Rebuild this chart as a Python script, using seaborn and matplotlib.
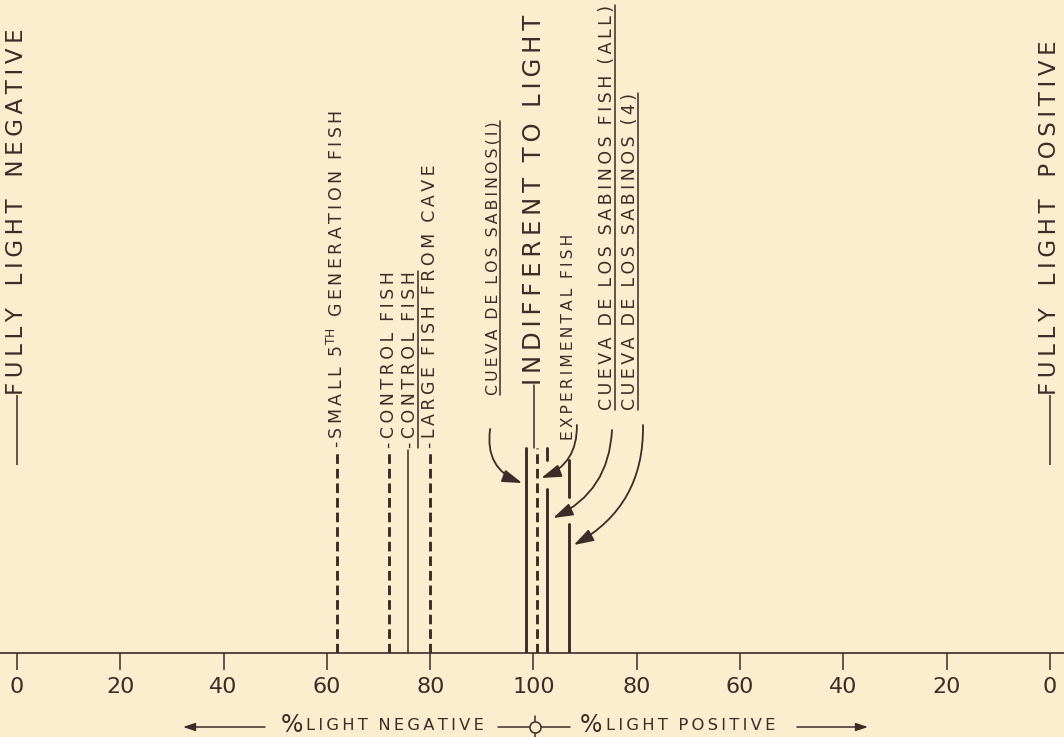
import matplotlib
matplotlib.use("Agg")
import matplotlib.pyplot as plt
from matplotlib.lines import Line2D
import numpy as np
import pandas as pd
import seaborn as sns

# ---------------- data ----------------
tick_positions = [0, 20, 40, 60, 80, 100, 120, 140, 160, 180, 200]
tick_labels = ["0", "20", "40", "60", "80", "100", "80", "60", "40", "20", "0"]

# vertical result lines (position on a 0..200 scale: 100 = indifferent to light)
segment_ids = ["small_5th", "control_a", "control_b", "large_cave", "cueva_1",
               "indiff_leader", "indifferent", "exp_top", "cueva_all",
               "c4_top", "cueva_4"]
segment_x = [62.0, 72.0, 75.7, 80.0, 98.5, 100.1, 100.7, 102.6, 102.6, 106.9, 106.9]
segment_y0 = [0, 0, 0, 0, 0, 205, 0, 193, 0, 156, 0]
segment_y1 = [203, 203, 203, 203, 205, 268, 205, 205, 164, 193, 129]
segment_dash = ["dashed", "dashed", "solid", "dashed", "solid", "solid",
                "dashed", "solid", "solid", "solid", "solid"]
segment_weight = ["thick", "thick", "thin", "thick", "thick", "thin",
                  "thick", "thick", "thick", "thick", "thick"]

label_texts = ["-SMALL  5$^{TH}$  GENERATION  FISH", "-CONTROL  FISH", "-CONTROL  FISH",
               "-LARGE  FISH  FROM  CAVE", "CUEVA  DE  LOS  SABINOS(I)",
               "INDIFFERENT  TO  LIGHT", "EXPERIMENTAL  FISH",
               "CUEVA  DE  LOS  SABINOS  FISH  (ALL)", "CUEVA  DE  LOS  SABINOS  (4)"]
label_x = [62.0, 72.0, 76.0, 80.0, 92.2, 100.1, 106.7, 114.2, 118.7]
label_y = [205, 205, 205, 205, 258, 268, 213, 243, 243]
label_size = [12.5, 12.5, 12.5, 12.5, 11.3, 17.5, 11.2, 12.5, 12.5]
label_underline = [False, False, True, False, True, False, False, True, True]

arrow_from = [(91.6, 224), (108.4, 228), (115.2, 223), (121.2, 228)]
arrow_to = [(97.8, 170), (101.5, 175), (103.8, 135), (107.8, 108)]
arrow_rad = [0.4, -0.35, -0.3, -0.3]

side_texts = ["FULLY   LIGHT   NEGATIVE", "FULLY   LIGHT   POSITIVE"]
side_x = [0, 200]
side_leader = (188, 258)

BG = "#fbeecf"
INK = "#3b2c27"

sns.set_theme(style="white", rc={"figure.facecolor": BG, "axes.facecolor": BG,
                                 "savefig.facecolor": BG})
plt.rcParams["font.family"] = ["DejaVu Sans"]
plt.rcParams["mathtext.default"] = "regular"
plt.rcParams["text.color"] = INK


def spaced(s, n=1):
    if n == 0:
        return s
    sep = "\u2009" * n
    out, in_math, prev = [], False, False
    for ch in s:
        if ch == "$":
            in_math = not in_math
            out.append(ch)
            prev = not in_math
            continue
        if in_math:
            out.append(ch)
            continue
        if ch != " " and prev:
            out.append(sep)
        out.append(ch)
        prev = ch != " "
    return "".join(out)


W, H = 1064, 737
fig = plt.figure(figsize=(W / 100, H / 100), dpi=100)
ax = fig.add_axes([0, 84 / H, 1, 653 / H])
ax.set_xlim(-17 / 5.165, (W - 17) / 5.165)
ax.set_ylim(0, 653)

df = pd.DataFrame({
    "seg": np.repeat(segment_ids, 2),
    "x": np.repeat(segment_x, 2),
    "y": [v for pair in zip(segment_y0, segment_y1) for v in pair],
    "dash": np.repeat(segment_dash, 2),
    "weight": np.repeat(segment_weight, 2),
})
sns.lineplot(data=df, x="x", y="y", units="seg", estimator=None, sort=False,
             style="dash", dashes={"dashed": (3.3, 1.7), "solid": ""},
             size="weight", sizes={"thick": 2.1, "thin": 1.1},
             color=INK, legend=False, ax=ax)

for s in ["top", "left", "right"]:
    ax.spines[s].set_visible(False)
ax.spines["bottom"].set_color(INK)
ax.spines["bottom"].set_linewidth(1.2)
ax.set_xticks(tick_positions, tick_labels)
ax.set_yticks([])
ax.tick_params(axis="x", bottom=True, direction="out", length=12, width=1.1,
               color=INK, labelcolor=INK, labelsize=16, pad=5)
ax.set_xlabel("")
ax.set_ylabel("")

texts = []
for t, x, y, fs in zip(label_texts, label_x, label_y, label_size):
    texts.append(ax.text(x, y, spaced(t), rotation=90, ha="center", va="bottom",
                         fontsize=fs, color=INK))

for t, x in zip(side_texts, side_x):
    ax.text(x, side_leader[1], spaced(t), rotation=90, ha="center", va="bottom",
            fontsize=16.5, color=INK)
    ax.vlines(x, side_leader[0], side_leader[1], color=INK, lw=1.1)

for a, b, r in zip(arrow_from, arrow_to, arrow_rad):
    ax.annotate("", xy=b, xytext=a,
                arrowprops=dict(arrowstyle="-|>,head_length=1.0,head_width=0.32",
                                connectionstyle=f"arc3,rad={r}", color=INK, lw=1.3,
                                shrinkA=0, shrinkB=0))

fig.canvas.draw()
renderer = fig.canvas.get_renderer()
inv = ax.transData.inverted()
for t, u in zip(texts, label_underline):
    if u:
        bb = t.get_window_extent(renderer).transformed(inv)
        ax.plot([bb.x1 - 0.2, bb.x1 - 0.2], [bb.y0, bb.y1], color=INK, lw=1.1)


def fx(x):
    return x / W


def fy(y):
    return 1 - y / H


ax.annotate("", xy=(fx(183), fy(727)), xytext=(fx(265), fy(727)),
            xycoords="figure fraction", textcoords="figure fraction",
            arrowprops=dict(arrowstyle="-|>,head_length=0.6,head_width=0.2",
                            color=INK, lw=1.1, shrinkA=0, shrinkB=0))
ax.annotate("", xy=(fx(868), fy(727)), xytext=(fx(797), fy(727)),
            xycoords="figure fraction", textcoords="figure fraction",
            arrowprops=dict(arrowstyle="-|>,head_length=0.6,head_width=0.2",
                            color=INK, lw=1.1, shrinkA=0, shrinkB=0))
fig.add_artist(Line2D([fx(498), fx(570)], [fy(727), fy(727)], color=INK, lw=1.1,
                      transform=fig.transFigure))
fig.add_artist(Line2D([fx(535), fx(535)], [fy(716), fy(738)], color=INK, lw=1.1,
                      transform=fig.transFigure))
fig.add_artist(Line2D([fx(535)], [fy(727)], marker="o", markersize=8, mfc=BG,
                      mec=INK, mew=1.1, transform=fig.transFigure))

fig.text(fx(292), fy(725), "%", ha="center", va="center", fontsize=17, color=INK)
fig.text(fx(306), fy(726), spaced("LIGHT  NEGATIVE"), ha="left", va="center",
         fontsize=11.8, color=INK)
fig.text(fx(591), fy(725), "%", ha="center", va="center", fontsize=17, color=INK)
fig.text(fx(606), fy(726), spaced("LIGHT  POSITIVE"), ha="left", va="center",
         fontsize=11.8, color=INK)

fig.savefig("out.png", dpi=100, facecolor=BG)
